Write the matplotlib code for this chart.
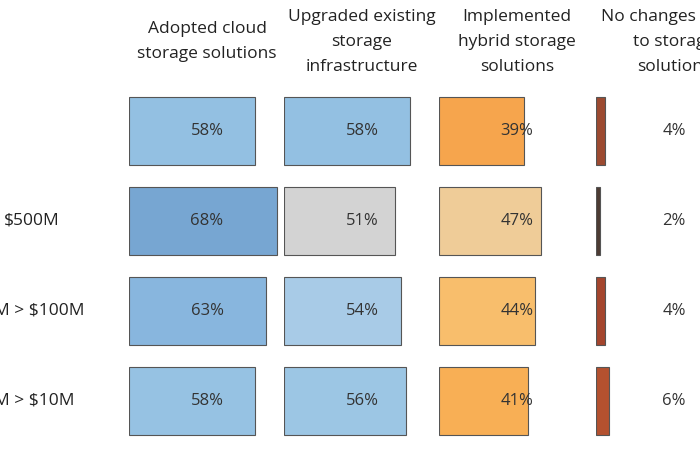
import matplotlib.pyplot as plt

# table data: rows are revenue bands, columns are the storage actions
row_labels = ["", r"\$500M", r"\$500M > \$100M", r"\$100M > \$10M"]
headers = ["Adopted cloud\nstorage solutions",
           "Upgraded existing\nstorage\ninfrastructure",
           "Implemented\nhybrid storage\nsolutions",
           "No changes made\nto storage\nsolutions"]
adopted_cloud = [58, 68, 63, 58]
upgraded_existing = [58, 51, 54, 56]
hybrid = [39, 47, 44, 41]
no_changes = [4, 2, 4, 6]

cloud_colors = ["#93C0E2", "#77A6D2", "#88B6DE", "#96C2E3"]
upgrade_colors = ["#93C0E2", "#D3D3D3", "#A8CBE7", "#9CC6E4"]
hybrid_colors = ["#F6A54D", "#EFCC98", "#F8BE6C", "#F8AF55"]
nochange_colors = ["#9C4A30", "#4D3B33", "#A4452D", "#B4512F"]

plt.rcParams['font.family'] = ['Open Sans', 'DejaVu Sans']

W, H = 700, 450
fig = plt.figure(figsize=(7, 4.5), dpi=100)

px_per_pct = 2.175
col_left = [129, 284, 439, 596]
col_w = 150
top_px, bot_px = 86, 446
label_x = 78 / px_per_pct

columns = [adopted_cloud, upgraded_existing, hybrid, no_changes]
colors = [cloud_colors, upgrade_colors, hybrid_colors, nochange_colors]
rows = list(range(len(row_labels)))

for i in range(4):
    ax = fig.add_axes([col_left[i] / W, (H - bot_px) / H, col_w / W, (bot_px - top_px) / H])
    ax.barh(rows, columns[i], height=0.755, color=colors[i],
            edgecolor="#555555", linewidth=0.8)
    ax.set_xlim(0, col_w / px_per_pct)
    ax.set_ylim(3.5, -0.5)
    ax.axis("off")
    for r, v in zip(rows, columns[i]):
        ax.text(label_x, r, f"{v}%", ha="center", va="center",
                fontsize=12, color="#333333")
    ax.text(label_x, -0.99, headers[i], ha="center", va="center",
            fontsize=12.5, color="#222222", linespacing=1.76, clip_on=False)

# row labels, partly cut off at the left edge like the original
label_right = [0, 60, 84, 75]
for r, lab in enumerate(row_labels):
    if lab:
        fig.text(label_right[r] / W, 1 - (131 + 90 * r) / H, lab,
                 ha="right", va="center", fontsize=12.5, color="#222222")

fig.savefig("out.png", dpi=100)
